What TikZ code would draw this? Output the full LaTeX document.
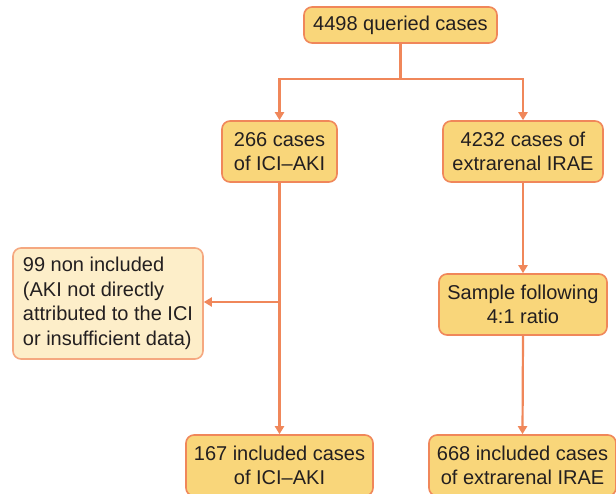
\documentclass[tikz,border=0pt]{standalone}
\usepackage{fontspec}
\setmainfont{Liberation Sans}
\usetikzlibrary{arrows.meta}
\definecolor{boxfill}{HTML}{F9D67A}
\definecolor{boxline}{HTML}{F0875A}
\definecolor{lightfill}{HTML}{FDEEC9}
\definecolor{lightline}{HTML}{F5A880}
\definecolor{txt}{HTML}{231F20}
\tikzset{
  box/.style={draw=boxline, fill=boxfill, line width=1.6pt, rounded corners=8pt,
    align=center, text=txt, inner sep=0pt,
    font=\fontsize{20pt}{24.5pt}\selectfont},
  lightbox/.style={box, draw=lightline, fill=lightfill, align=left},
  conn/.style={draw=boxline, line width=2.2pt},
  arr/.style={conn, -{Triangle[length=8pt,width=9pt]}},
}
\begin{document}
\begin{tikzpicture}[x=1pt,y=-1pt]
\useasboundingbox (0,0) rectangle (616,494);
\node[box, minimum width=193pt, minimum height=36pt] (top) at (400.5,25) {4498 queried cases};
\node[box, minimum width=115pt, minimum height=61pt] (a) at (279.5,151.5) {266 cases\\of ICI--AKI};
\node[box, minimum width=160pt, minimum height=61pt] (b) at (523,151.5) {4232 cases of\\extrarenal IRAE};
\node[lightbox, minimum width=190pt, minimum height=111pt] (n) at (108,303.5) {99 non included\\(AKI not directly\\attributed to the ICI\\or insufficient data)};
\node[box, minimum width=168pt, minimum height=61pt] (s) at (523,304.5) {Sample following\\4:1 ratio};
\node[box, minimum width=187pt, minimum height=61pt] (c) at (279.5,465.5) {167 included cases\\of ICI--AKI};
\node[box, minimum width=187pt, minimum height=61pt] (d) at (522.5,465.5) {668 included cases\\of extrarenal IRAE};
\coordinate (j) at (top.south |- 0,79);
\coordinate (k) at (a.south |- 0,302);
\draw[conn] (top.south) -- (j);
\draw[arr] (j) -| (a.north);
\draw[arr] (j) -| (b.north);
\draw[arr] (a.south) -- (c.north);
\draw[arr] (k) -- (k -| n.east);
\draw[arr] (b.south) -- (s.north);
\draw[arr] (s.south) -- (d.north);
\end{tikzpicture}
\end{document}
